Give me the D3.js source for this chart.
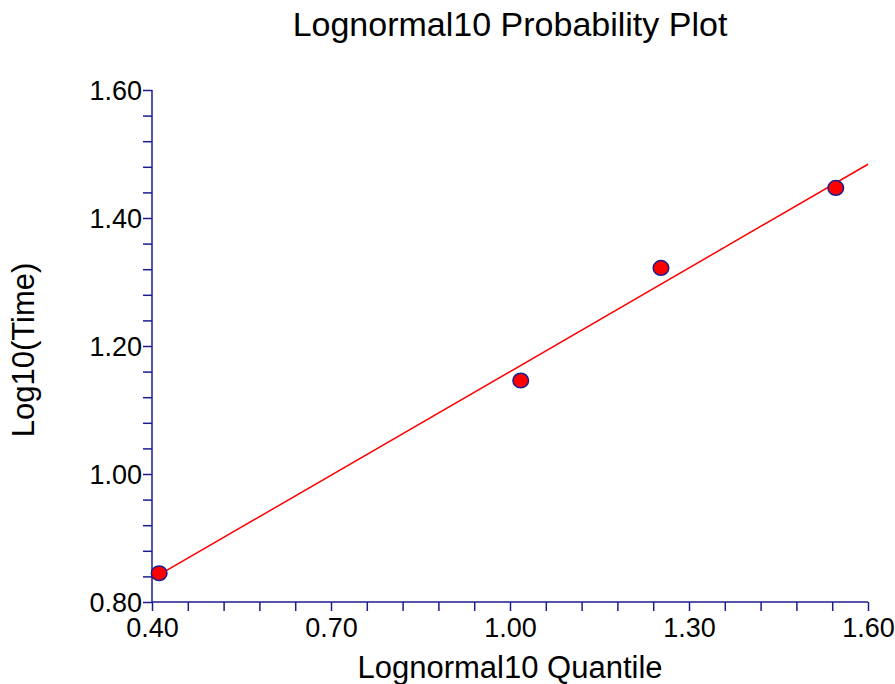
<!DOCTYPE html>
<html>
<head>
<meta charset="utf-8">
<script src="https://cdn.jsdelivr.net/npm/d3@7"></script>
<style>
  html, body { margin: 0; padding: 0; background: #fff; }
  svg { display: block; font-family: Arial, "Liberation Sans", sans-serif; }
</style>
</head>
<body>
<svg id="chart" width="895" height="684"></svg>
<script>
// Observed quantiles (x) and log10 failure times (y)
const quantiles = [0.412, 1.018, 1.253, 1.546];
const logTimes  = [0.845, 1.146, 1.322, 1.447];

// Fitted reference line, evaluated at the axis ends
const fitX = [0.40, 1.60];
const fitY = [0.836, 1.484];

// Axis ticks
const xMajorTicks = [0.40, 0.70, 1.00, 1.30, 1.60];
const yMajorTicks = [0.80, 1.00, 1.20, 1.40, 1.60];
const xDomain = [0.40, 1.60];
const yDomain = [0.80, 1.60];

const title = "Lognormal10 Probability Plot";
const xTitle = "Lognormal10 Quantile";
const yTitle = "Log10(Time)";

const svg = d3.select("#chart");
const plotLeft = 152, plotRight = 868, plotTop = 90, plotBottom = 602;
const axisColor = "#1c1c8f";

const x = d3.scaleLinear().domain(xDomain).range([plotLeft, plotRight]);
const y = d3.scaleLinear().domain(yDomain).range([plotBottom, plotTop]);

// Minor ticks: five steps per major interval
const xAllTicks = d3.range(0, 21).map(i => xDomain[0] + i * 0.06);
const yAllTicks = d3.range(0, 21).map(i => yDomain[0] + i * 0.04);

const isMajor = (list, d) => list.some(t => Math.abs(t - d) < 1e-6);

const xAxis = d3.axisBottom(x)
  .tickValues(xAllTicks)
  .tickSize(9)
  .tickFormat(d => isMajor(xMajorTicks, d) ? d3.format(".2f")(d) : "");

const yAxis = d3.axisLeft(y)
  .tickValues(yAllTicks)
  .tickSize(9)
  .tickFormat(d => isMajor(yMajorTicks, d) ? d3.format(".2f")(d) : "");

const gx = svg.append("g").attr("transform", `translate(0,${plotBottom})`).call(xAxis);
const gy = svg.append("g").attr("transform", `translate(${plotLeft},0)`).call(yAxis);

[gx, gy].forEach(g => {
  g.select(".domain").attr("stroke", axisColor).attr("stroke-width", 1.5);
  g.selectAll(".tick line").attr("stroke", axisColor).attr("stroke-width", 1.5);
  g.selectAll(".tick text").attr("fill", "#000").style("font-size", "27px")
    .style("font-family", "Arial, 'Liberation Sans', sans-serif");
});
gx.select(".domain").attr("d", `M${plotLeft},0H${plotRight}`);
gy.select(".domain").attr("d", `M0,${plotBottom}V${plotTop}`);
gx.selectAll(".tick text").attr("y", 9).attr("dy", "0.95em");
gy.selectAll(".tick text").attr("x", -10).attr("dy", "0.35em");

// Fitted line
svg.append("line")
  .attr("x1", x(fitX[0])).attr("y1", y(fitY[0]))
  .attr("x2", x(fitX[1])).attr("y2", y(fitY[1]))
  .attr("stroke", "#ff0000").attr("stroke-width", 1.5);

// Data points
svg.append("g").selectAll("ellipse")
  .data(quantiles.map((q, i) => [q, logTimes[i]]))
  .join("ellipse")
  .attr("cx", d => x(d[0])).attr("cy", d => y(d[1]))
  .attr("rx", 7.8).attr("ry", 7.3)
  .attr("fill", "#ff0000").attr("stroke", axisColor).attr("stroke-width", 1.5);

// Titles
svg.append("text")
  .attr("x", 510).attr("y", 36)
  .attr("text-anchor", "middle")
  .style("font-size", "34px")
  .text(title);

svg.append("text")
  .attr("x", 510).attr("y", 678)
  .attr("text-anchor", "middle")
  .style("font-size", "31px")
  .text(xTitle);

svg.append("text")
  .attr("transform", "translate(34,350) rotate(-90)")
  .attr("text-anchor", "middle")
  .style("font-size", "31px")
  .text(yTitle);
</script>
</body>
</html>
